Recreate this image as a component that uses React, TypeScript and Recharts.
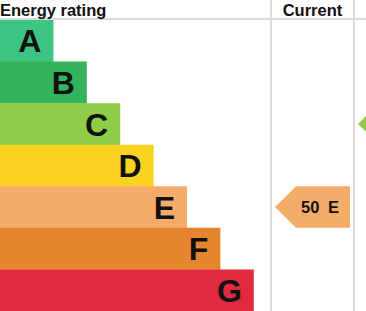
import { Bar, BarChart, Cell, LabelList, ReferenceArea, ReferenceLine, XAxis, YAxis } from 'recharts';

const bands = ['A', 'B', 'C', 'D', 'E', 'F', 'G'];
const barLengths = [16, 26, 36, 46, 56, 66, 76];
const bandColors = ['#3dc583', '#33b35b', '#8fcd48', '#f9d320', '#f4ac6a', '#e5852d', '#df2a3f'];
const columnTitles = ['Energy rating', 'Current'];
const currentScore = 50;
const currentBand = 'E';
const potentialBand = 'C';

const W = 366;
const H = 311;
const HEADER = 20;
const X_MAX = 109.6;
const FONT = '"Liberation Sans", Arial, sans-serif';
const LINE = '#dadada';

// pixel -> axis units (plot spans the full width)
const u = (p: number) => (p * X_MAX) / W;

const data = bands.map((band, i) => ({ band, length: barLengths[i] }));

function Arrow(props: any) {
  const { x, y, width, height, fill, score, band } = props;
  const notch = 21;
  const mid = y + height / 2;
  const pts = `${x},${mid} ${x + notch},${y} ${x + width},${y} ${x + width},${y + height} ${x + notch},${y + height}`;
  return (
    <g>
      <polygon points={pts} fill={fill} />
      {score != null && (
        <text
          y={mid}
          dominantBaseline="central"
          fontFamily={FONT}
          fontWeight="bold"
          fontSize={16.5}
          fill="#111"
        >
          <tspan x={x + 26}>{score}</tspan>
          <tspan x={x + 53}>{band}</tspan>
        </text>
      )}
    </g>
  );
}

export default function App() {
  const colorOf = (b: string) => bandColors[bands.indexOf(b)];
  return (
    <div style={{ position: 'absolute', left: 0, top: 0, width: W, height: H, overflow: 'hidden', background: '#fff' }}>
      <div style={{ position: 'absolute', left: 0, top: 0, width: W, height: HEADER - 2, borderBottom: `2px solid ${LINE}`, fontFamily: FONT, fontWeight: 'bold', fontSize: 16.5, color: '#111' }}>
        <div style={{ position: 'absolute', left: 0, top: 0, lineHeight: '20px' }}>{columnTitles[0]}</div>
        <div style={{ position: 'absolute', left: 271, width: 83, top: 0, lineHeight: '20px', textAlign: 'center' }}>{columnTitles[1]}</div>
        <div style={{ position: 'absolute', left: 270, top: 0, width: 2, height: HEADER, background: LINE }} />
        <div style={{ position: 'absolute', left: 353, top: 0, width: 2, height: HEADER, background: LINE }} />
      </div>
      <div style={{ position: 'absolute', left: 0, top: 0 }}>
        <BarChart
          width={W}
          height={H}
          data={data}
          layout="vertical"
          margin={{ top: HEADER, right: 0, bottom: 0, left: 0 }}
          barCategoryGap={0}
          barGap={0}
        >
          <XAxis type="number" domain={[0, X_MAX]} hide allowDataOverflow />
          <YAxis type="category" dataKey="band" hide />
          <ReferenceLine x={u(271)} stroke={LINE} strokeWidth={2} />
          <ReferenceLine x={u(354)} stroke={LINE} strokeWidth={2} />
          <Bar dataKey="length" isAnimationActive={false}>
            {data.map((d, i) => (
              <Cell key={d.band} fill={bandColors[i]} />
            ))}
            <LabelList
              dataKey="band"
              position="insideRight"
              offset={12}
              fill="#111"
              fontSize={32}
              fontWeight="bold"
              fontFamily={FONT}
            />
          </Bar>
          <ReferenceArea
            y1={currentBand}
            y2={currentBand}
            x1={u(275)}
            x2={u(350)}
            ifOverflow="visible"
            shape={(p: any) => <Arrow {...p} fill={colorOf(currentBand)} score={currentScore} band={currentBand} />}
          />
          <ReferenceArea
            y1={potentialBand}
            y2={potentialBand}
            x1={u(358)}
            x2={u(433)}
            ifOverflow="visible"
            shape={(p: any) => <Arrow {...p} fill={colorOf(potentialBand)} />}
          />
        </BarChart>
      </div>
    </div>
  );
}
